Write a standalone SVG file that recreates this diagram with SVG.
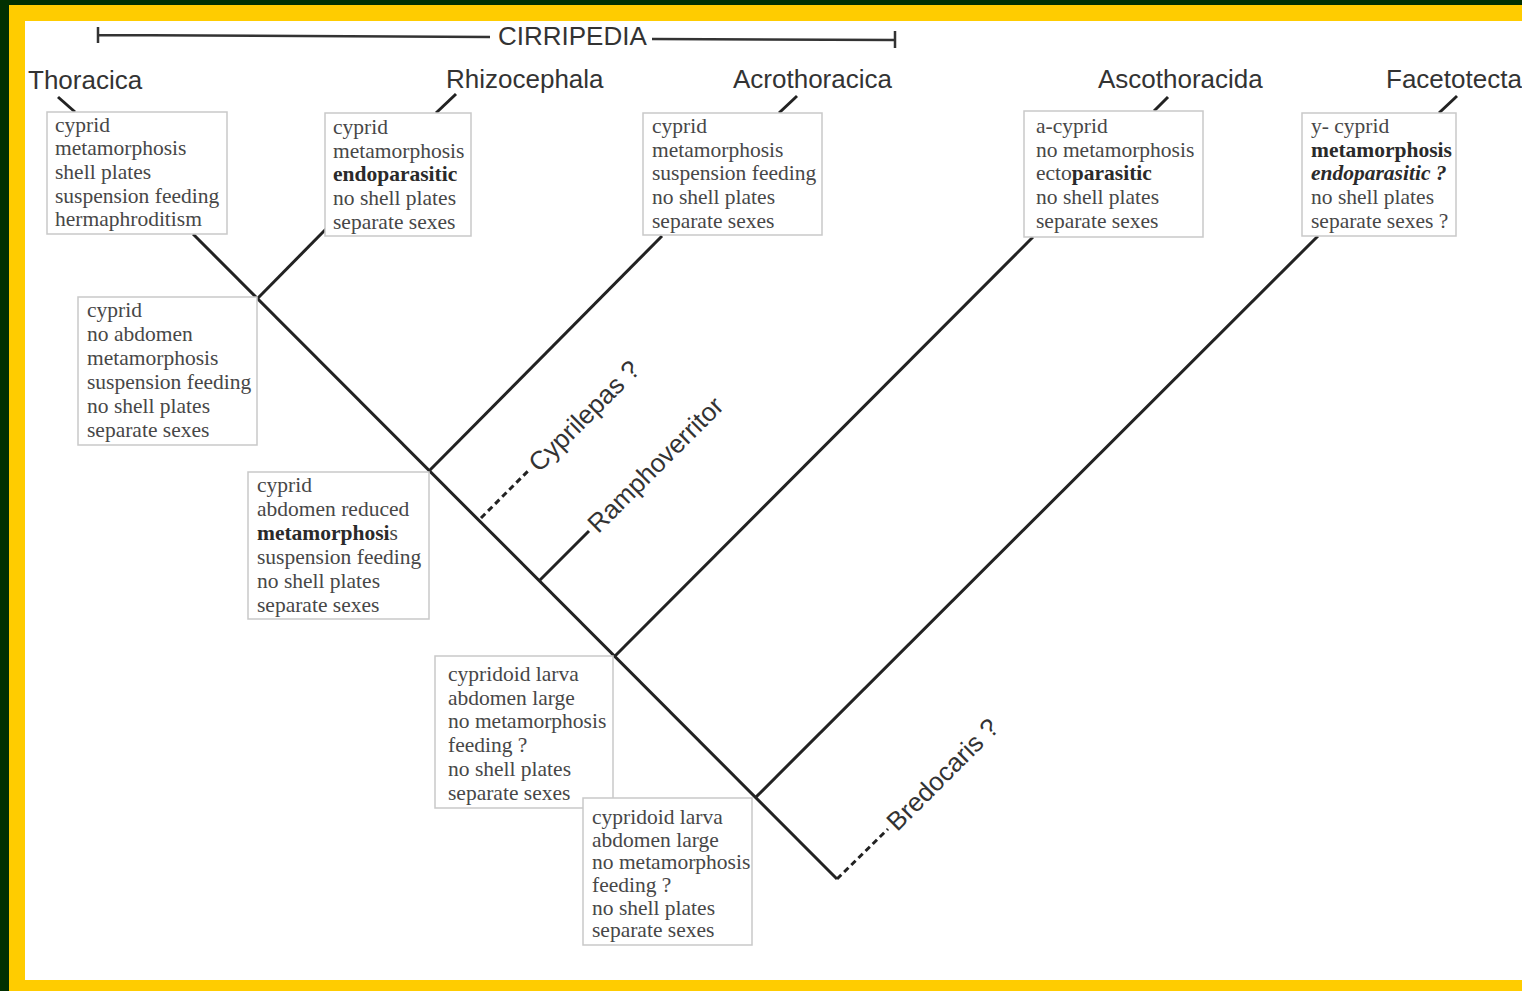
<svg xmlns="http://www.w3.org/2000/svg" width="1522" height="991" viewBox="0 0 1522 991">
  <style>
    .lbl { font-family: "Liberation Sans", Arial, sans-serif; font-size: 26px; fill: #333; }
    .box { fill: #fff; stroke: #c9c9c9; stroke-width: 1.5; }
    .txt { font-family: "Liberation Serif", "Times New Roman", serif; font-size: 21.5px; fill: #474747; }
    .b { font-weight: bold; fill: #2a2a2a; }
    .bi { font-weight: bold; font-style: italic; fill: #2a2a2a; }
    .ln { stroke: #222; stroke-width: 3; fill: none; stroke-linecap: butt; }
    .dash { stroke: #222; stroke-width: 3; fill: none; stroke-dasharray: 6 4; }
    .bar { stroke: #333; stroke-width: 2.5; fill: none; }
  </style>

  <!-- frame -->
  <rect x="0" y="0" width="1522" height="991" fill="#013001"/>
  <rect x="9" y="5" width="1513" height="986" fill="#ffcc00"/>
  <rect x="25" y="21" width="1497" height="959" fill="#ffffff"/>

  <!-- CIRRIPEDIA span bar -->
  <g id="cirripedia">
    <path class="bar" d="M98,27 V43 M98,35 L490,37 M652,39 L895,40 M895,31 V48"/>
    <text class="lbl" x="498" y="45">CIRRIPEDIA</text>
  </g>

  <!-- tree connectors -->
  <g id="connectors">
    <!-- main trunk -->
    <path class="ln" d="M193,234 L837,879"/>
    <!-- branches -->
    <path class="ln" d="M258,298 L326,229"/>
    <path class="ln" d="M430,470 L662,236"/>
    <path class="ln" d="M540,580 L589,531"/>
    <path class="ln" d="M615,656 L1033,237"/>
    <path class="ln" d="M755,798 L1318,236"/>
    <!-- fossil taxa -->
    <path class="dash" d="M481,518 L530,469"/>
    <path class="dash" d="M837,879 L888,829"/>
    <!-- label ticks above the terminal boxes -->
    <path class="ln" d="M58,97 L75,112"/>
    <path class="ln" d="M436,113 L456,94"/>
    <path class="ln" d="M779,113 L797,96"/>
    <path class="ln" d="M1154,111 L1168,97"/>
    <path class="ln" d="M1439,113 L1457,96"/>
  </g>

  <!-- fossil labels -->
  <g id="cyprilepas">
    <text class="lbl" transform="translate(533,467) rotate(-45)" x="0" y="9">Cyprilepas ?</text>
  </g>
  <g id="ramphoverritor">
    <text class="lbl" transform="translate(592,528) rotate(-45)" x="0" y="9">Ramphoverritor</text>
  </g>
  <g id="bredocaris">
    <text class="lbl" transform="translate(891,826) rotate(-45)" x="0" y="9">Bredocaris ?</text>
  </g>

  <!-- terminal taxa -->
  <g id="thoracica">
    <text class="lbl" x="28" y="89">Thoracica</text>
    <rect class="box" x="47" y="112" width="180" height="122"/>
    <text class="txt">
      <tspan x="55" y="132">cyprid</tspan>
      <tspan x="55" y="155">metamorphosis</tspan>
      <tspan x="55" y="179">shell plates</tspan>
      <tspan x="55" y="203">suspension feeding</tspan>
      <tspan x="55" y="226">hermaphroditism</tspan>
    </text>
  </g>

  <g id="rhizocephala">
    <text class="lbl" x="446" y="88">Rhizocephala</text>
    <rect class="box" x="325" y="113" width="146" height="123"/>
    <text class="txt">
      <tspan x="333" y="134">cyprid</tspan>
      <tspan x="333" y="158">metamorphosis</tspan>
      <tspan x="333" y="181" class="b">endoparasitic</tspan>
      <tspan x="333" y="205">no shell plates</tspan>
      <tspan x="333" y="229">separate sexes</tspan>
    </text>
  </g>

  <g id="acrothoracica">
    <text class="lbl" x="733" y="88">Acrothoracica</text>
    <rect class="box" x="643" y="113" width="179" height="122"/>
    <text class="txt">
      <tspan x="652" y="133">cyprid</tspan>
      <tspan x="652" y="157">metamorphosis</tspan>
      <tspan x="652" y="180">suspension feeding</tspan>
      <tspan x="652" y="204">no shell plates</tspan>
      <tspan x="652" y="228">separate sexes</tspan>
    </text>
  </g>

  <g id="ascothoracida">
    <text class="lbl" x="1098" y="88">Ascothoracida</text>
    <rect class="box" x="1024" y="111" width="179" height="126"/>
    <text class="txt">
      <tspan x="1036" y="133">a-cyprid</tspan>
      <tspan x="1036" y="157">no metamorphosis</tspan>
      <tspan x="1036" y="180">ecto<tspan class="b">parasitic</tspan></tspan>
      <tspan x="1036" y="204">no shell plates</tspan>
      <tspan x="1036" y="228">separate sexes</tspan>
    </text>
  </g>

  <g id="facetotecta">
    <text class="lbl" x="1386" y="88">Facetotecta</text>
    <rect class="box" x="1302" y="113" width="154" height="123"/>
    <text class="txt">
      <tspan x="1311" y="133">y- cyprid</tspan>
      <tspan x="1311" y="157" class="b">metamorphosis</tspan>
      <tspan x="1311" y="180" class="bi">endoparasitic ?</tspan>
      <tspan x="1311" y="204">no shell plates</tspan>
      <tspan x="1311" y="228">separate sexes ?</tspan>
    </text>
  </g>

  <!-- internal node character sets -->
  <g id="node-cirripedia">
    <rect class="box" x="78" y="297" width="179" height="148"/>
    <text class="txt">
      <tspan x="87" y="317">cyprid</tspan>
      <tspan x="87" y="341">no abdomen</tspan>
      <tspan x="87" y="365">metamorphosis</tspan>
      <tspan x="87" y="389">suspension feeding</tspan>
      <tspan x="87" y="413">no shell plates</tspan>
      <tspan x="87" y="437">separate sexes</tspan>
    </text>
  </g>

  <g id="node-acrothoracica">
    <rect class="box" x="248" y="472" width="181" height="147"/>
    <text class="txt">
      <tspan x="257" y="492">cyprid</tspan>
      <tspan x="257" y="516">abdomen reduced</tspan>
      <tspan x="257" y="540"><tspan class="b">metamorphosi</tspan>s</tspan>
      <tspan x="257" y="564">suspension feeding</tspan>
      <tspan x="257" y="588">no shell plates</tspan>
      <tspan x="257" y="612">separate sexes</tspan>
    </text>
  </g>

  <g id="node-thecostraca">
    <rect class="box" x="435" y="656" width="178" height="152"/>
    <text class="txt">
      <tspan x="448" y="681">cypridoid larva</tspan>
      <tspan x="448" y="705">abdomen large</tspan>
      <tspan x="448" y="728">no metamorphosis</tspan>
      <tspan x="448" y="752">feeding ?</tspan>
      <tspan x="448" y="776">no shell plates</tspan>
      <tspan x="448" y="800">separate sexes</tspan>
    </text>
  </g>

  <g id="node-base">
    <rect class="box" x="583" y="798" width="169" height="147"/>
    <text class="txt">
      <tspan x="592" y="824">cypridoid larva</tspan>
      <tspan x="592" y="847">abdomen large</tspan>
      <tspan x="592" y="869">no metamorphosis</tspan>
      <tspan x="592" y="892">feeding ?</tspan>
      <tspan x="592" y="915">no shell plates</tspan>
      <tspan x="592" y="937">separate sexes</tspan>
    </text>
  </g>
</svg>
